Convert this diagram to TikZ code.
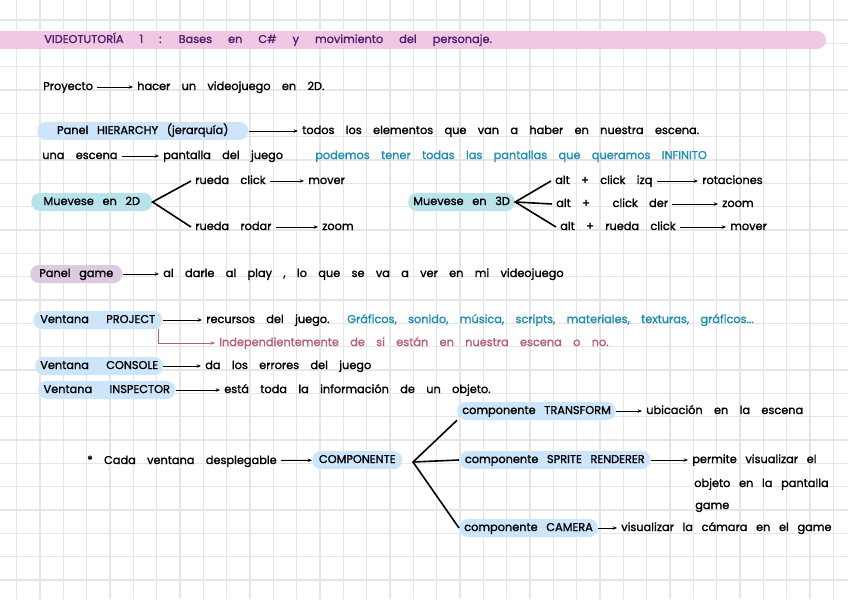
\documentclass[tikz,border=0pt]{standalone}
\usepackage{fontspec}
\setmainfont{Poppins}[FakeBold=1.4]
\usetikzlibrary{arrows.meta}
\definecolor{gridc}{HTML}{E6E6E6}
\definecolor{pinkbar}{HTML}{F0C8E4}
\definecolor{titlec}{HTML}{4E1F6E}
\definecolor{hlblue}{HTML}{CDE5FB}
\definecolor{hlteal}{HTML}{B9E3EA}
\definecolor{hlmauve}{HTML}{DCCBE0}
\definecolor{tealtxt}{HTML}{1D8DB1}
\definecolor{redtxt}{HTML}{B55D7D}
\newcommand\hwf{\fontsize{8.5}{10}\selectfont\spaceskip=8.5pt plus 2pt minus 2pt\relax}
\newcommand\hwn{\fontsize{8.5}{10}\selectfont\spaceskip=6.5pt plus 2pt minus 2pt\relax}
\newcommand\hwt{\fontsize{8.5}{10}\selectfont\spaceskip=12pt plus 2pt minus 2pt\relax}
\begin{document}
\begin{tikzpicture}[x=0.75pt,y=-0.75pt,
  txt/.style={font=\hwf, anchor=west, inner xsep=3pt, inner ysep=0pt, text height=6pt, text depth=1.5pt},
  hl/.style={font=\hwn, anchor=west, inner xsep=3.75pt, inner ysep=3pt, text height=6pt, text depth=1.5pt, rounded corners=6.5pt},
  arr/.style={-{Stealth[length=3.2pt,width=2.6pt]}, line width=0.7pt},
  br/.style={line width=1.2pt}]
\useasboundingbox (0,0) rectangle (848,599);
\fill[white] (0,0) rectangle (848,599);
% grid
\foreach \i in {0,...,35} \draw[gridc, line width=0.9pt] (16.667+23.333*\i,0) -- (16.667+23.333*\i,599);
\foreach \j in {0,...,24} \draw[gridc, line width=0.9pt] (0,20+23.333*\j) -- (848,20+23.333*\j);
% title bar
\fill[pinkbar, rounded corners=6.75pt] (-20,31) rectangle (826,49);
\node[txt, titlec, font=\hwt] (title) at (40,40) {VIDEOTUTORÍA 1 : Bases en C\# y movimiento del personaje.};
% Proyecto
\node[txt] (proy) at (39,87) {Proyecto};
\node[txt] (hacer) at (133,87) {hacer un videojuego en 2D.};
\draw[arr] (proy) -- (hacer);
% Hierarchy
\node[hl, fill=hlblue, minimum width=211*0.75pt] (hier) at (37,131) {Panel HIERARCHY (jerarquía)};
\node[txt] (todos) at (298,131) {todos los elementos que van a haber en nuestra escena.};
\draw[arr] (hier) -- (todos);
% una escena
\node[txt] (una) at (38,156) {una escena};
\node[txt] (pant) at (159,156) {pantalla del juego};
\node[txt, tealtxt] (podemos) at (311,156) {podemos tener todas las pantallas que queramos INFINITO};
\draw[arr] (una) -- (pant);
% Muevese 2D
\node[hl, fill=hlteal, minimum width=121*0.75pt] (m2d) at (31,202) {Muevese en 2D};
\node[txt] (rclick) at (191,181) {rueda click};
\node[txt] (mover1) at (304,181) {mover};
\node[txt] (rrodar) at (191,227) {rueda rodar};
\node[txt] (zoom1) at (318,227) {zoom};
\draw[br] (rclick.west) -- (m2d.east) -- (rrodar.west);
\draw[arr] (rclick) -- (mover1);
\draw[arr] (rrodar) -- (zoom1);
% Muevese 3D
\node[hl, fill=hlteal, minimum width=104*0.75pt] (m3d) at (408,202) {Muevese en 3D};
\node[txt] (a1) at (551,181) {alt + click izq};
\node[txt] (rot) at (698,181) {rotaciones};
\node[txt] (a2) at (552,204) {alt + \ click der};
\node[txt] (zoom2) at (718,204) {zoom};
\node[txt] (a3) at (556,227) {alt + rueda click};
\node[txt] (mover2) at (726,227) {mover};
\draw[br] (a1.west) -- (m3d.east) -- (a3.west);
\draw[br] (m3d.east) -- (a2.west);
\draw[arr] (a1) -- (rot);
\draw[arr] (a2) -- (zoom2);
\draw[arr] (a3) -- (mover2);
% Panel game
\node[hl, fill=hlmauve, minimum width=92*0.75pt] (game) at (30,274) {Panel game};
\node[txt] (darle) at (159,274) {al darle al play , lo que se va a ver en mi videojuego};
\draw[arr] (game) -- (darle);
% Project
\node[hl, fill=hlblue, minimum width=129*0.75pt] (proj) at (33,320) {Ventana \ PROJECT};
\node[txt] (recursos) at (202,320) {recursos del juego.};
\node[txt, tealtxt] (graf) at (343,320) {Gráficos, sonido, música, scripts, materiales, texturas, gráficos...};
\draw[arr] (proj) -- (recursos);
\node[txt, redtxt] (indep) at (215,343) {Independientemente de si están en nuestra escena o no.};
\draw[arr, redtxt] ([xshift=-3pt]proj.south east) |- (indep.west);
% Console
\node[hl, fill=hlblue, minimum width=121*0.75pt] (cons) at (35,366) {Ventana \ CONSOLE};
\node[txt] (errores) at (201,366) {da los errores del juego};
\draw[arr] (cons) -- (errores);
% Inspector
\node[hl, fill=hlblue, minimum width=137*0.75pt] (insp) at (38,390) {Ventana \ INSPECTOR};
\node[txt] (esta) at (220,390) {está toda la información de un objeto.};
\draw[arr] (insp) -- (esta);
% Componente
\node[txt] (cada) at (83,461) {* Cada ventana desplegable};
\node[hl, fill=hlblue, minimum width=90*0.75pt] (comp) at (312,460) {COMPONENTE};
\draw[arr] (cada) -- (comp);
\coordinate (apex) at (413,462);
\node[hl, fill=hlblue, minimum width=150*0.75pt] (trans) at (457,411) {componente TRANSFORM};
\node[hl, fill=hlblue, minimum width=191*0.75pt] (sprite) at (459,460) {componente SPRITE RENDERER};
\node[hl, fill=hlblue, minimum width=131*0.75pt] (cam) at (459,528) {componente CAMERA};
\draw[br] (trans.south west) -- (apex) -- (cam.west);
\draw[br] (apex) -- (sprite.west);
\node[txt] (ubic) at (642,411) {ubicación en la escena};
\draw[arr] (trans) -- (ubic);
\node[txt, font=\hwn] (perm1) at (688,460) {permite visualizar el};
\node[txt, font=\hwn] (perm2) at (690,484) {objeto en la pantalla};
\node[txt, font=\hwn] (perm3) at (691,506) {game};
\draw[arr] (sprite) -- (perm1);
\node[txt, font=\hwn] (visu) at (617,528) {visualizar la cámara en el game};
\draw[arr] (cam) -- (visu);
\end{tikzpicture}
\end{document}
